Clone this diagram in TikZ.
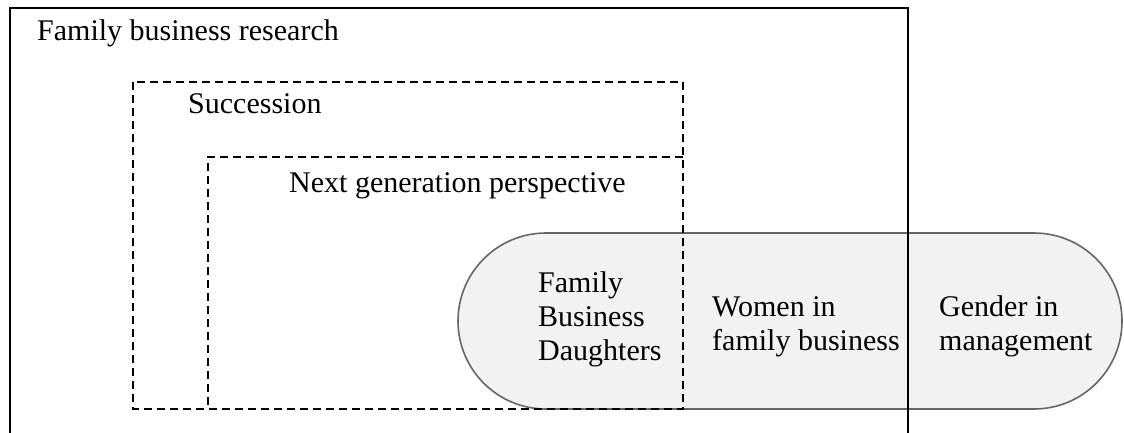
\documentclass[tikz,border=0pt]{standalone}
\usepackage{fontspec}
\setmainfont{Liberation Serif}
\begin{document}
\begin{tikzpicture}[x=1pt,y=-1pt,
  lbl/.style={anchor=base west,inner sep=0pt,font=\fontsize{30}{34}\selectfont,align=left},
  dashline/.style={draw=black,line width=2.6pt,dash pattern=on 8pt off 5pt},
  solidbox/.style={draw=black,line width=2.4pt},
  capsule/.style={draw=black!60,fill=black!5,line width=1.6pt,rounded corners=88pt}]
\useasboundingbox (0,0) rectangle (1124,432);
\begin{scope}
\clip (0,0) rectangle (1124,432);
% shaded overlap band
\draw[capsule] (458,233) rectangle (1122,409);
% family business research (solid frame, runs past the lower edge)
\draw[solidbox] (10,8) rectangle (908,450);
% succession
\draw[dashline] (133,82) rectangle (683,409);
% next generation perspective (shares its right and bottom sides)
\draw[dashline] (683,157) -- (208,157) -- (208,409);
\end{scope}
\node[lbl] (fbr) at (37,40) {Family business research};
\node[lbl] (suc) at (188,113) {Succession};
\node[lbl] (ngp) at (289,192) {Next generation perspective};
\node[lbl] (fbd) at (538,360) {Family\\Business\\Daughters};
\node[lbl] (wfb) at (712,350) {Women in\\family business};
\node[lbl] (gim) at (939,350) {Gender in\\management};
\end{tikzpicture}
\end{document}
